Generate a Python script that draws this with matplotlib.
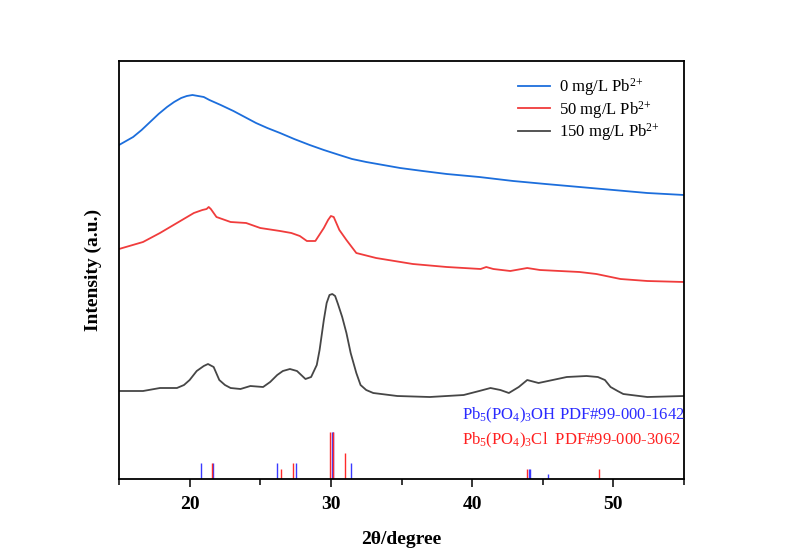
import matplotlib
matplotlib.use("Agg")
import matplotlib.pyplot as plt

plt.rcParams['font.family'] = ['Liberation Serif', 'DejaVu Serif']
plt.rcParams['mathtext.fontset'] = 'custom'
plt.rcParams['mathtext.rm'] = 'Liberation Serif'
plt.rcParams['mathtext.it'] = 'Liberation Serif:italic'
plt.rcParams['mathtext.bf'] = 'Liberation Serif:bold'

# curves (intensity in arbitrary units, offset stacked)
x_0 = [15.0, 16.0, 16.6, 17.2, 17.8, 18.4, 18.9, 19.4, 19.8, 20.2, 20.6, 21.0, 21.4,
       22.2, 23.1, 23.9, 24.7, 25.5, 26.4, 27.4, 28.5, 29.5, 30.6, 31.5, 32.5,
       33.7, 34.9, 36.5, 38.2, 40.5, 42.9, 45.2, 47.6, 50.0, 52.4, 55.0]
y_0 = [334, 342, 349, 357, 365, 372, 377, 381, 383, 384, 383, 382, 379,
       374, 368, 362, 356, 351, 346, 340, 334, 329, 324, 320, 317,
       314, 311, 308, 305, 302, 298, 295, 292, 289, 286, 284]

x_50 = [15.0, 16.7, 17.9, 19.1, 20.3, 20.9, 21.2, 21.35, 21.5, 21.9, 22.9, 24.0, 25.0,
        26.4, 27.2, 27.8, 28.3, 28.9, 29.5, 29.8, 30.0, 30.2, 30.6, 31.1, 31.8,
        33.2, 35.8, 38.2, 40.6, 41.0, 41.5, 42.7, 43.9, 44.8, 47.6, 48.8, 50.5,
        52.4, 55.0]
y_50 = [230, 237, 246, 256, 266, 269, 270, 272, 270, 262, 257, 256, 251,
        248, 246, 243, 238, 238, 251, 259, 263, 262, 249, 239, 226,
        221, 215, 212, 210, 212, 210, 208, 211, 209, 207, 205, 200,
        198, 197]

x_150 = [15.0, 16.7, 17.9, 19.1, 19.6, 20.0, 20.5, 21.0, 21.3, 21.7, 22.1, 22.5, 22.9,
         23.6, 24.3, 25.2, 25.7, 26.2, 26.6, 27.1, 27.6, 28.2, 28.6, 29.0, 29.2,
         29.5, 29.7, 29.9, 30.1, 30.3, 30.5, 30.8, 31.1, 31.4, 31.8, 32.1, 32.5,
         33.0, 34.7, 37.0, 39.4, 40.5, 41.3, 42.0, 42.6, 43.3, 43.9, 44.7, 45.7,
         46.7, 48.1, 48.9, 49.4, 49.8, 50.3, 50.7, 52.4, 55.0]
y_150 = [88, 88, 91, 91, 94, 99, 108, 113, 115, 112, 99, 94, 91,
         90, 93, 92, 97, 104, 108, 110, 108, 100, 102, 114, 129,
         159, 176, 184, 185, 183, 175, 162, 146, 126, 106, 94, 89,
         86, 83, 82, 84, 88, 91, 89, 86, 92, 99, 96, 99,
         102, 103, 102, 99, 92, 88, 85, 82, 83]

# reference sticks
oh_pos = [20.8, 21.65, 26.15, 27.55, 30.05, 30.12, 31.4, 44.0, 44.08, 45.4]
oh_int = [16, 16, 16, 16, 47, 47, 16, 10, 10, 5]
cl_pos = [21.55, 26.45, 27.3, 29.95, 30.18, 31.0, 43.9, 48.95]
cl_int = [16, 10, 16, 47, 47, 26, 10, 10]

labels = ['0 mg/L Pb$^{2{+}}$', '50 mg/L Pb$^{2{+}}$', '150 mg/L Pb$^{2{+}}$']
colors = ['#1c6edc', '#f03c3c', '#464646']

fig = plt.figure(figsize=(7.95, 5.48), dpi=100)
ax = fig.add_axes([0.1497, 0.1259, 0.7107, 0.7628])

ax.plot(x_0, y_0, color=colors[0], lw=1.3, label=labels[0])
ax.plot(x_50, y_50, color=colors[1], lw=1.3, label=labels[1])
ax.plot(x_150, y_150, color=colors[2], lw=1.3, label=labels[2])

ax.vlines(oh_pos, 0, oh_int, color='#3a3aff', lw=1.0)
ax.vlines(cl_pos, 0, cl_int, color='#ff2a2a', lw=1.0)

ax.text(39.3, 64, 'Pb$_5$(PO$_4$)$_3$OH PDF#99-000-1642', color='#2a2aff',
        fontsize=12, ha='left', va='center')
ax.text(39.3, 39, 'Pb$_5$(PO$_4$)$_3$Cl  PDF#99-000-3062', color='#ff2020',
        fontsize=12, ha='left', va='center')

ax.set_xlim(15, 55)
ax.set_ylim(0, 418)
ax.set_xticks([20, 30, 40, 50])
ax.set_xticks([15, 25, 35, 45, 55], minor=True)
ax.tick_params(axis='x', which='major', length=6, width=1.1, direction='out',
               labelsize=14, pad=6)
ax.tick_params(axis='x', which='minor', length=4, width=1.1, direction='out')
for lab in ax.get_xticklabels():
    lab.set_fontweight('bold')
ax.set_yticks([])
for s in ax.spines.values():
    s.set_linewidth(1.3)

ax.set_xlabel('2θ/degree', fontsize=14, fontweight='bold', labelpad=13)
ax.set_ylabel('Intensity (a.u.)', fontsize=14, fontweight='bold', labelpad=12)

ax.legend(loc='upper left', bbox_to_anchor=(0.68, 1.0), frameon=False,
          fontsize=12, handlelength=1.9, handletextpad=0.55, labelspacing=0.05)

fig.savefig('out.png', dpi=100)
